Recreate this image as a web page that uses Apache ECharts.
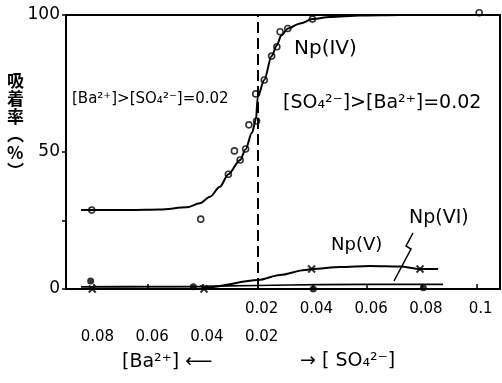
<!DOCTYPE html>
<html><head><meta charset="utf-8">
<script src="https://cdn.jsdelivr.net/npm/echarts@6/dist/echarts.min.js"></script>
<style>html,body{margin:0;padding:0;background:#fff}#c{width:502px;height:383px}</style>
</head><body><div id="c"></div><script>
// ---- data ----
// Left half: [Ba2+] > [SO4 2-] = 0.02, abscissa = [Ba2+] (increasing leftward)
// Right half: [SO4 2-] > [Ba2+] = 0.02, abscissa = [SO4 2-]
const SO4_LABELS = [0.02, 0.04, 0.06, 0.08, 0.1];
const BA_LABELS = [0.08, 0.06, 0.04, 0.02];
const X_TICKS = [-0.04, -0.02, 0, 0.02, 0.04, 0.06, 0.08, 0.1];
const Y_LABELS = [0, 50, 100];
const Y_TICKS = [0, 25, 50, 100];
const EQUIV = 0.02;

// Np(IV) measured points (open circles)
const npIV_pts_Ba = [[0.0806, 28.8], [0.0408, 25.5], [0.0307, 41.9], [0.0285, 50.4], [0.0264, 47.1], [0.0244, 51.1], [0.0232, 59.9], [0.0204, 61.3], [0.0207, 71.2]];
const npIV_pts_SO4 = [[0.0224, 76.3], [0.0251, 85.0], [0.0270, 88.4], [0.0282, 93.9], [0.0310, 95.1], [0.0400, 98.5], [0.1009, 100.8]];
// Np(IV) drawn curve
const npIV_curve_Ba = [[0.0845, 28.8], [0.0776, 28.8], [0.0666, 28.8], [0.0557, 29.0], [0.0459, 29.8], [0.0411, 31.3], [0.0374, 33.7], [0.0338, 37.3], [0.0307, 41.9], [0.0264, 47.1], [0.0244, 51.0], [0.0221, 57.0], [0.0206, 62.0], [0.0200, 70.0]];
const npIV_curve_SO4 = [[0.0224, 76.3], [0.0251, 85.0], [0.0270, 89.0], [0.0286, 92.5], [0.0311, 95.1], [0.0355, 96.9], [0.0400, 98.5], [0.0464, 99.3], [0.0574, 99.8], [0.0720, 100], [0.1085, 100]];

// Np(V) measured points (crosses) and curve
const npV_pts_Ba = [[0.0804, 0], [0.0396, 0]];
const npV_pts_SO4 = [[0.0397, 7.3], [0.0793, 7.3]];
const npV_curve_Ba = [[0.0845, 0.2], [0.0600, 0.2], [0.0400, 0.2], [0.0386, 0.6]];
const npV_curve_SO4 = [[0.0202, 3.3], [0.0282, 5.1], [0.0373, 6.9], [0.0397, 7.3], [0.0501, 8.0], [0.0610, 8.4], [0.0720, 8.2], [0.0793, 7.3], [0.0859, 7.3]];

// Np(VI) measured points (filled circles) and curve
const npVI_pts_Ba = [[0.0810, 2.9], [0.0435, 0.8]];
const npVI_pts_SO4 = [[0.0403, 0], [0.0805, 0.5]];
const npVI_curve_Ba = [[0.0845, 0.8], [0.0593, 0.9], [0.0411, 1.0]];
const npVI_curve_SO4 = [[0.0201, 1.3], [0.0428, 1.6], [0.0793, 1.7], [0.0877, 1.7]];

// ---- mapping of the two concentration scales onto one axis ----
function posBa(c) { return 0.04 - c; }
function posSO4(c) { return c; }
function join(ba, so4) {
  return ba.map(p => [posBa(p[0]), p[1]]).concat(so4.map(p => [posSO4(p[0]), p[1]]));
}

const FONT = "'DejaVu Sans', sans-serif";
const chart = echarts.init(document.getElementById('c'), null, {renderer: 'canvas'});
const XMIN = -0.05, XMAX = 0.1085;
const crossPath = 'path://M0,0L10,10M10,0L0,10';

chart.setOption({
  animation: false,
  backgroundColor: '#fff',
  grid: {left: 66, right: 2, top: 15, bottom: 94, show: true, borderColor: '#000', borderWidth: 2, backgroundColor: 'transparent'},
  xAxis: [{
    type: 'value', min: XMIN, max: XMAX, position: 'bottom',
    splitLine: {show: false},
    axisLine: {show: true, onZero: false, lineStyle: {color: '#000', width: 2}},
    axisTick: {show: true, inside: true, length: 5, customValues: X_TICKS, lineStyle: {color: '#000', width: 1.5}},
    axisLabel: {customValues: SO4_LABELS, margin: 13, color: '#000', fontSize: 15, fontFamily: FONT, padding: [0, 0, 0, 8],
      formatter: v => String(+v.toFixed(2))}
  }, {
    type: 'value', min: XMIN, max: XMAX, position: 'bottom', offset: 28,
    splitLine: {show: false}, axisLine: {show: false, onZero: false}, axisTick: {show: false},
    axisLabel: {customValues: BA_LABELS.map(posBa), margin: 13, color: '#000', fontSize: 15, fontFamily: FONT, padding: [0, 0, 0, 8],
      formatter: v => (0.04 - v).toFixed(2)}
  }],
  yAxis: {
    type: 'value', min: 0, max: 100, position: 'left',
    splitLine: {show: false},
    axisLine: {show: true, onZero: false, lineStyle: {color: '#000', width: 2}},
    axisTick: {show: true, length: 4, customValues: Y_TICKS, lineStyle: {color: '#000', width: 1.5}},
    axisLabel: {customValues: Y_LABELS, margin: 6, color: '#000', fontSize: 17, fontFamily: FONT}
  },
  series: [
    {type: 'line', name: 'Np(IV) curve', data: join(npIV_curve_Ba, npIV_curve_SO4), smooth: 0.3, smoothMonotone: 'x', symbol: 'none', clip: false,
      lineStyle: {color: '#000', width: 2},
      markLine: {silent: true, symbol: 'none', label: {show: false}, lineStyle: {color: '#000', width: 2, type: [11, 5]}, data: [{xAxis: EQUIV}]}},
    {type: 'line', name: 'Np(V) curve', data: join(npV_curve_Ba, npV_curve_SO4), smooth: 0.3, smoothMonotone: 'x', symbol: 'none', clip: false,
      lineStyle: {color: '#000', width: 2}},
    {type: 'line', name: 'Np(VI) curve', data: join(npVI_curve_Ba, npVI_curve_SO4), smooth: 0.3, symbol: 'none', clip: false,
      lineStyle: {color: '#000', width: 1.6}},
    {type: 'scatter', name: 'Np(IV)', data: join(npIV_pts_Ba, npIV_pts_SO4), symbol: 'circle', symbolSize: 6, clip: false,
      itemStyle: {color: '#fff', borderColor: '#000', borderWidth: 1.6}},
    {type: 'scatter', name: 'Np(V)', data: join(npV_pts_Ba, npV_pts_SO4), symbol: crossPath, symbolSize: 7, clip: false,
      itemStyle: {color: '#000', borderColor: '#000', borderWidth: 2}},
    {type: 'scatter', name: 'Np(VI)', data: join(npVI_pts_Ba, npVI_pts_SO4), symbol: 'circle', symbolSize: 7, clip: false,
      itemStyle: {color: '#000'}}
  ],
  graphic: [
    {type: 'text', left: 7, top: 72, style: {text: '吸\n着\n率\n︵\n%\n︶', fontSize: 17, lineHeight: 18, fontWeight: 'bold', fontFamily: "'Noto Sans CJK JP', sans-serif", fill: '#000', align: 'center', width: 18}},
    {type: 'text', left: 72, top: 92, style: {text: '[Ba²⁺]>[SO₄²⁻]=0.02', fontSize: 15, fontFamily: FONT, fill: '#000'}},
    {type: 'text', left: 283, top: 94, style: {text: '[SO₄²⁻]>[Ba²⁺]=0.02', fontSize: 19, fontFamily: FONT, fill: '#000'}},
    {type: 'text', left: 294, top: 39, style: {text: 'Np(IV)', fontSize: 20, fontFamily: FONT, fill: '#000'}},
    {type: 'text', left: 331, top: 236, style: {text: 'Np(V)', fontSize: 18, fontFamily: FONT, fill: '#000'}},
    {type: 'text', left: 409, top: 209, style: {text: 'Np(VI)', fontSize: 19, fontFamily: FONT, fill: '#000'}},
    {type: 'polyline', shape: {points: [[413, 233], [406, 246], [411, 249], [394, 281]]}, style: {stroke: '#000', lineWidth: 1.5, fill: null}},
    {type: 'text', left: 122, top: 353, style: {text: '[Ba²⁺] ⟵', fontSize: 19, fontFamily: FONT, fill: '#000'}},
    {type: 'text', left: 300, top: 352, style: {text: '→ [ SO₄²⁻]', fontSize: 19, fontFamily: FONT, fill: '#000'}}
  ]
});
</script></body></html>
